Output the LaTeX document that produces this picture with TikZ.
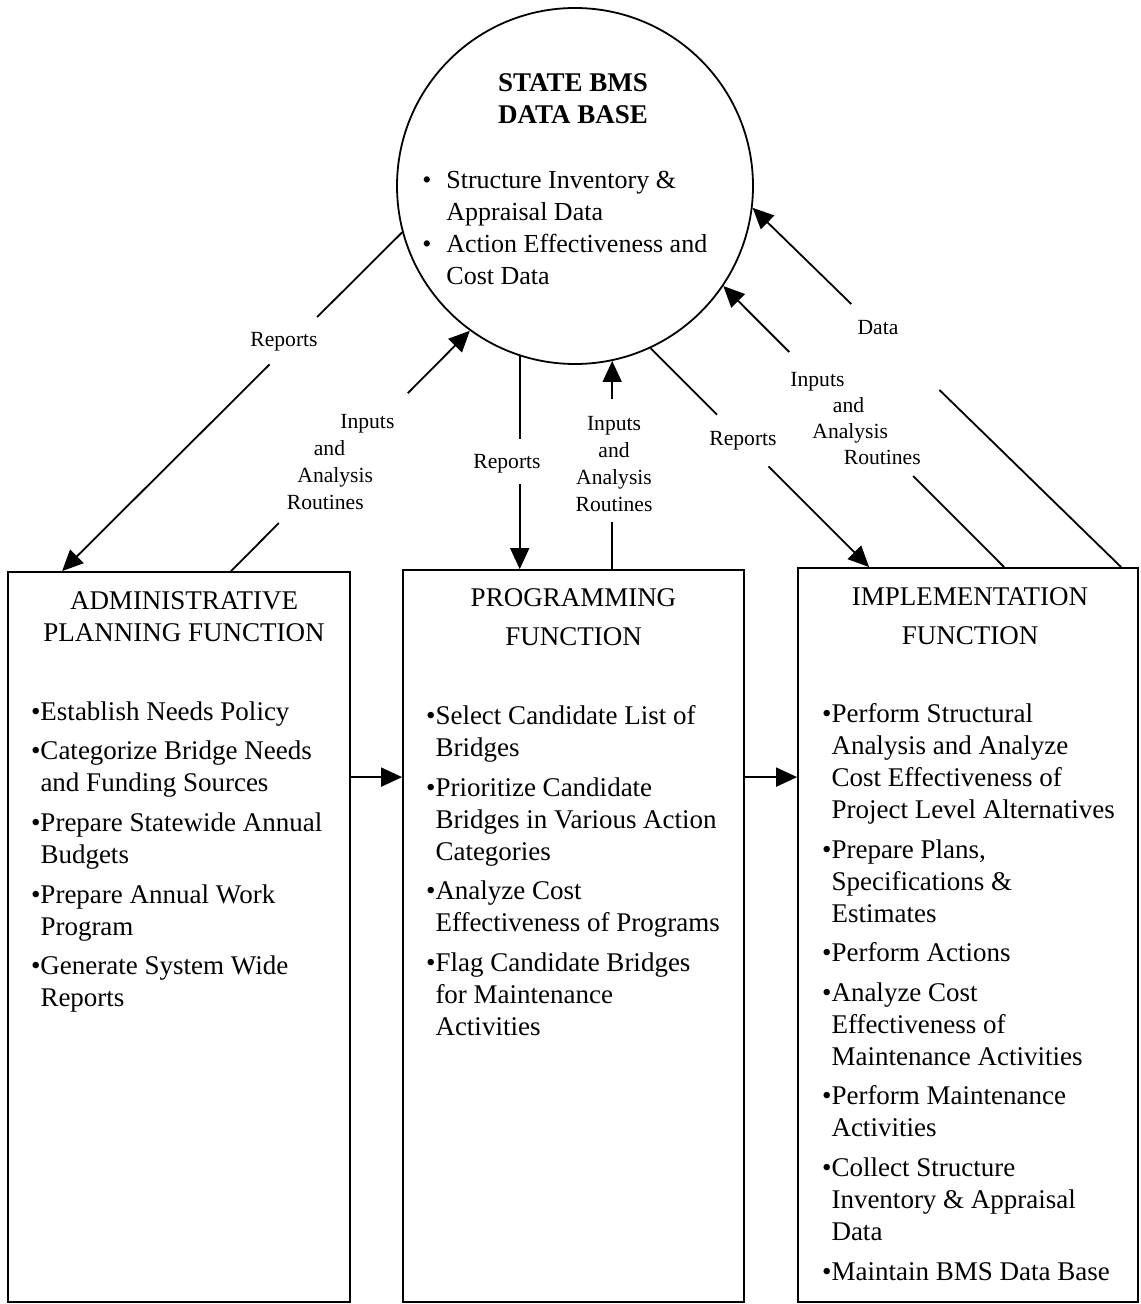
\documentclass[tikz,border=0pt]{standalone}
\usepackage{fontspec}
\setmainfont{Liberation Serif}
\usetikzlibrary{arrows.meta, calc, positioning}
\newcommand{\bul}{\llap{\textbullet}}
\newcommand{\dbul}{\llap{\textbullet\hspace{7.5pt}}}

\begin{document}
\begin{tikzpicture}[x=0.5pt, y=-0.5pt]
    % boxes and texts
    \tikzstyle{fbox}=[draw, line width=0.9pt, inner sep=0]
    \tikzstyle{ftitle}=[inner sep=0, align=center, anchor=north, font=\fontsize{13.5}{16}\selectfont]
    \tikzstyle{flist}=[inner sep=0, align=left, anchor=north west, font=\fontsize{13.5}{16}\selectfont]
    % connector labels
    \tikzstyle{lbl}=[inner sep=0, font=\fontsize{10.8}{13.5}\selectfont]
    \tikzstyle{ln}=[line width=0.9pt]
    \tikzstyle{arr}=[line width=0.9pt, -{Triangle[length=10.5pt,width=9.5pt]}]
    \useasboundingbox (0,0) rectangle (1140,1304);
    % Data base circle
    \node[draw, circle, line width=0.9pt, minimum size=178pt, inner sep=0] (db) at (575,186) {};
    \node[inner sep=0, align=center, anchor=north, font=\fontsize{13.5}{16}\selectfont\bfseries] (dbT) at (573,73) {STATE BMS\\DATA BASE};
    \node[flist, font=\fontsize{13}{16}\selectfont] (dbL) at (446,171) {\dbul Structure Inventory \&\\
        Appraisal Data\\
        \dbul Action Effectiveness and\\
        Cost Data};
    % Function boxes
    \node[fbox, minimum width=171pt, minimum height=365pt] (adm) at (179,937) {};
    \node[fbox, minimum width=170.5pt, minimum height=366pt] (pgm) at (573.5,936) {};
    \node[fbox, minimum width=170pt, minimum height=367pt] (imp) at (968,935) {};
    \node[ftitle] (admT) at ($(adm.north)+(5,20)$) {ADMINISTRATIVE\\PLANNING FUNCTION};
    \node[ftitle] (pgmT) at ($(pgm.north)+(0,19)$) {PROGRAMMING\\[3.5pt]FUNCTION};
    \node[ftitle] (impT) at ($(imp.north)+(2,20)$) {IMPLEMENTATION\\[3.5pt]FUNCTION};
    \node[flist] (admL) at ($(adm.north west)+(33,130)$) {\bul Establish Needs Policy\\[3.8pt]
        \bul Categorize Bridge Needs\\
        and Funding Sources\\[3.8pt]
        \bul Prepare Statewide Annual\\
        Budgets\\[3.8pt]
        \bul Prepare Annual Work\\
        Program\\[3.8pt]
        \bul Generate System Wide\\
        Reports};
    \node[flist] (pgmL) at ($(pgm.north west)+(33,136)$) {\bul Select Candidate List of\\
        Bridges\\[3.8pt]
        \bul Prioritize Candidate\\
        Bridges in Various Action\\
        Categories\\[3.8pt]
        \bul Analyze Cost\\
        Effectiveness of Programs\\[3.8pt]
        \bul Flag Candidate Bridges\\
        for Maintenance\\
        Activities};
    \node[flist] (impL) at ($(imp.north west)+(34,136)$) {\bul Perform Structural\\
        Analysis and Analyze\\
        Cost Effectiveness of\\
        Project Level Alternatives\\[3.8pt]
        \bul Prepare Plans,\\
        Specifications \&\\
        Estimates\\[3.8pt]
        \bul Perform Actions\\[3.8pt]
        \bul Analyze Cost\\
        Effectiveness of\\
        Maintenance Activities\\[3.8pt]
        \bul Perform Maintenance\\
        Activities\\[3.8pt]
        \bul Collect Structure\\
        Inventory \& Appraisal\\
        Data\\[3.8pt]
        \bul Maintain BMS Data Base};
    % Admin <-> data base
    \coordinate (admR) at ($(adm.north west)+(55,0)$);
    \coordinate (admI) at ($(adm.north west)+(224,0)$);
    \path (db.195) -- (admR) coordinate[pos=.25] (g1a) coordinate[pos=.39] (g1b);
    \draw[ln] (db.195) -- (g1a);
    \draw[arr] (g1b) -- (admR);
    \node[lbl] (repA) at (284,342) {Reports};
    \path (admI) -- (db.234) coordinate[pos=.2] (g2a) coordinate[pos=.74] (g2b);
    \draw[ln] (admI) -- (g2a);
    \draw[arr] (g2b) -- (db.234);
    \node[lbl, align=left, anchor=north west] (inA) at (286.5,414) {\hspace*{26.75pt}Inputs\\
        \hspace*{13.5pt}and\\
        \hspace*{5.25pt}Analysis\\
        Routines};
    % Programming <-> data base
    \coordinate (pgmR) at (db.252 |- pgm.north);
    \coordinate (pgmI) at (db.282 |- pgm.north);
    \path (db.252) -- (pgmR) coordinate[pos=.39] (g3a) coordinate[pos=.6] (g3b);
    \draw[ln] (db.252) -- (g3a);
    \draw[arr] (g3b) -- (pgmR);
    \node[lbl] (repB) at (507,464) {Reports};
    \path (pgmI) -- (db.282) coordinate[pos=.226] (g4a) coordinate[pos=.817] (g4b);
    \draw[ln] (pgmI) -- (g4a);
    \draw[arr] (g4b) -- (db.282);
    \node[lbl, align=center, anchor=north] (inB) at (614,416) {Inputs\\and\\Analysis\\Routines};
    % Implementation <-> data base
    \coordinate (impR) at ($(imp.north west)+(72,0)$);
    \coordinate (impI) at ($(imp.north west)+(207,0)$);
    \coordinate (impD) at ($(imp.north west)+(324,0)$);
    \path (db.295) -- (impR) coordinate[pos=.304] (g5a) coordinate[pos=.54] (g5b);
    \draw[ln] (db.295) -- (g5a);
    \draw[arr] (g5b) -- (impR);
    \node[lbl] (repC) at (743,441) {Reports};
    \path (impI) -- (db.326) coordinate[pos=.324] (g6a) coordinate[pos=.765] (g6b);
    \draw[ln] (impI) -- (g6a);
    \draw[arr] (g6b) -- (db.326);
    \node[lbl, align=left, anchor=north west, font=\fontsize{10.8}{13}\selectfont] (inC) at (790,372) {Inputs\\
        \hspace*{21.25pt}and\\
        \hspace*{11pt}Analysis\\
        \hspace*{26.75pt}Routines};
    \path (impD) -- (db.353) coordinate[pos=.493] (g7a) coordinate[pos=.732] (g7b);
    \draw[ln] (impD) -- (g7a);
    \draw[arr] (g7b) -- (db.353);
    \node[lbl] (datL) at (878,328) {Data};
    % flow between functions
    \coordinate (h1) at ($(adm.north east)+(0,206)$);
    \draw[arr] (h1) -- (h1 -| pgm.west);
    \draw[arr] (h1 -| pgm.east) -- (h1 -| imp.west);
\end{tikzpicture}
\end{document}
